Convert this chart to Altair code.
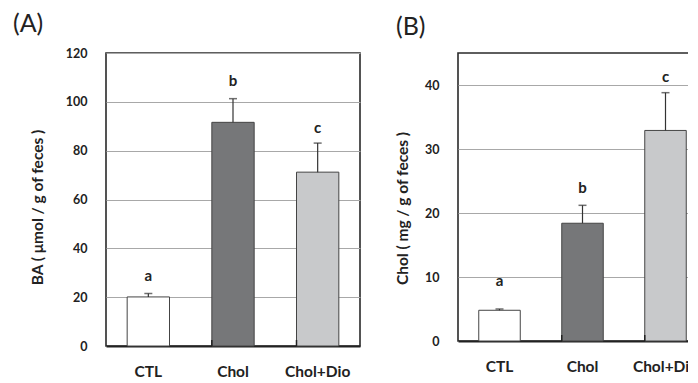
import altair as alt
import pandas as pd

groups = ["CTL", "Chol", "Chol+Dio"]
bar_colors = ["#ffffff", "#767779", "#c8c9cb"]
letters = ["a", "b", "c"]

ba_mean = [20.1, 91.6, 71.2]
ba_err = [21.5, 101.3, 83.1]
ba_letter_y = [28.6, 108.7, 89.4]

chol_mean = [4.8, 18.4, 32.9]
chol_err = [5.0, 21.2, 38.8]
chol_letter_y = [9.3, 23.9, 41.3]

boundaries = ["Chol", "Chol+Dio"]

FONT = "Lato"


def panel(title, mean, err, ly, ymax, yticks, ytitle, w, h, title_dx,
          title_dy, tx, ty):
    df = pd.DataFrame({
        "group": groups, "mean": mean, "err": err, "ly": ly,
        "letter": letters, "color": bar_colors,
    })
    bdf = pd.DataFrame({"group": boundaries})
    x = alt.X("group:N", sort=groups,
              scale=alt.Scale(paddingInner=0.5, paddingOuter=0.25),
              axis=alt.Axis(title=None, labelAngle=0, ticks=False,
                            labelFont=FONT, labelFontWeight="bold",
                            labelFontSize=15.5, labelColor="#222",
                            labelPadding=18, domainColor="#222",
                            domainWidth=2, grid=False))
    y = alt.Y("mean:Q",
              scale=alt.Scale(domain=[0, ymax], nice=False),
              axis=alt.Axis(title=ytitle, values=yticks, ticks=False,
                            domain=False, labelFont=FONT,
                            labelFontWeight="bold", labelFontSize=12.5,
                            labelColor="#222", labelPadding=19,
                            titleFont=FONT, titleFontWeight="bold",
                            titleFontSize=15.5, titleColor="#222",
                            titleX=tx, titleY=ty, titleAngle=270,
                            titleAlign="center", titleBaseline="bottom",
                            grid=True,
                            gridColor="#a8a8a8", gridWidth=1))
    base = alt.Chart(df)
    bars = base.mark_bar(stroke="#444", strokeWidth=1).encode(
        x=x, y=y,
        fill=alt.Color("color:N", scale=None),
    )
    ebar = base.mark_rule(color="#333", strokeWidth=1.2).encode(
        x=alt.X("group:N", sort=groups), y="mean:Q", y2="err:Q")
    cap = base.mark_tick(color="#333", thickness=1.5, size=8,
                         orient="horizontal").encode(
        x=alt.X("group:N", sort=groups), y="err:Q")
    txt = base.mark_text(font=FONT, fontWeight="bold", fontSize=15,
                         color="#222", baseline="middle").encode(
        x=alt.X("group:N", sort=groups), y="ly:Q", text="letter:N")
    ticks = alt.Chart(bdf).mark_rule(color="#222", strokeWidth=1.5).encode(
        x=alt.X("group:N", sort=groups, bandPosition=0),
        y=alt.value(h), y2=alt.value(h - 6))
    return alt.layer(bars, ebar, cap, txt, ticks).properties(
        width=w, height=h,
        title=alt.TitleParams(title, anchor="start", frame="group",
                              font=FONT, fontSize=25, fontWeight="normal",
                              color="#222", dx=title_dx, dy=title_dy,
                              offset=10),
    )


pa = panel("(A)", ba_mean, ba_err, ba_letter_y, 120,
           [0, 20, 40, 60, 80, 100, 120], "BA ( μmol / g of feces )",
           254, 293, -93, 0, -61, 154)
pb = panel("(B)", chol_mean, chol_err, chol_letter_y, 45,
           [0, 10, 20, 30, 40], "Chol ( mg / g of feces )",
           249, 288, -62, -3, -48, 155)

chart = alt.hconcat(pa, pb, spacing=33).properties(
    padding={"left": 4, "top": 3, "right": -20, "bottom": 0}
).configure_view(stroke="#2a2a2a", strokeWidth=1.6).configure_concat(
    spacing=33)

chart.save("out.html", embed_options={"renderer": "svg", "actions": False})
